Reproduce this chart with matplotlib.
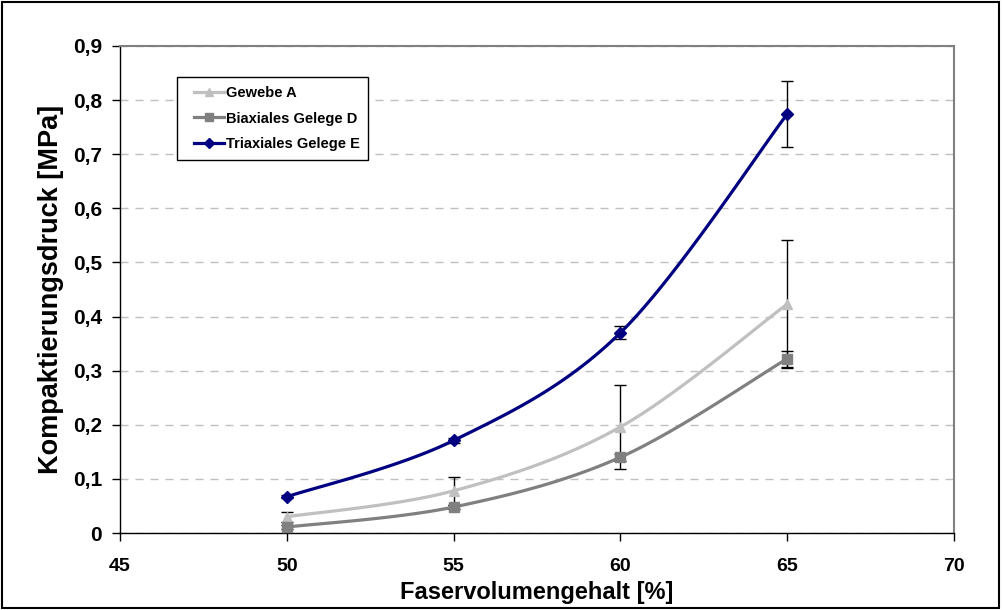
import matplotlib.pyplot as plt
import numpy as np
from matplotlib.legend_handler import HandlerLine2D
from matplotlib.patches import Rectangle
from matplotlib.ticker import FuncFormatter, MultipleLocator

plt.rcParams['font.family'] = ['Liberation Sans', 'DejaVu Sans']
plt.rcParams['font.weight'] = 'bold'

# Faservolumengehalt [%]
fvg = [50, 55, 60, 65]

# Kompaktierungsdruck [MPa] mit Standardabweichung
gewebe_a = [0.030, 0.078, 0.196, 0.423]
gewebe_a_err = [0.009, 0.026, 0.077, 0.118]
biax_d = [0.011, 0.048, 0.140, 0.322]
biax_d_err = [0.004, 0.004, 0.006, 0.015]
triax_e = [0.067, 0.171, 0.370, 0.774]
triax_e_err = [0.003, 0.005, 0.012, 0.061]

series = [
    ("Gewebe A", gewebe_a, gewebe_a_err, "#c0c0c0", "^", 7),
    ("Biaxiales Gelege D", biax_d, biax_d_err, "#808080", "s", 7),
    ("Triaxiales Gelege E", triax_e, triax_e_err, "#000080", "D", 6),
]

XLIM = (45, 70)
YLIM = (0, 0.9)


def smooth(x, y, n=40):
    # Catmull-Rom Bezier smoothing (like Excel's smoothed lines), done in
    # axis-normalised space so both axes weigh equally
    sx = (XLIM[1] - XLIM[0]) / 1.6
    sy = (YLIM[1] - YLIM[0])
    p = np.column_stack([np.asarray(x) / sx, np.asarray(y) / sy])
    pts = []
    for i in range(len(p) - 1):
        p0 = p[i - 1] if i > 0 else p[i]
        p3 = p[i + 2] if i + 2 < len(p) else p[i + 1]
        c1 = p[i] + (p[i + 1] - p0) / 6
        c2 = p[i + 1] - (p3 - p[i]) / 6
        t = np.linspace(0, 1, n)[:, None]
        seg = ((1 - t) ** 3 * p[i] + 3 * (1 - t) ** 2 * t * c1
               + 3 * (1 - t) * t ** 2 * c2 + t ** 3 * p[i + 1])
        pts.append(seg if i == 0 else seg[1:])
    pts = np.vstack(pts)
    return pts[:, 0] * sx, pts[:, 1] * sy


fig = plt.figure(figsize=(10.02, 6.10), dpi=100)
ax = fig.add_axes([0.1198, 0.1262, 0.952 - 0.1198, 0.9246 - 0.1262])

for label, y, err, col, mk, ms in series:
    xs, ys = smooth(fvg, y)
    ax.plot(xs, ys, color=col, lw=2.3, zorder=3)
    ax.errorbar(fvg, y, yerr=err, fmt="none", ecolor="black", elinewidth=1,
                capsize=4, capthick=1, zorder=2)
    ax.plot(fvg, y, linestyle="none", marker=mk, ms=ms, color=col,
            markeredgecolor=col, zorder=4)
    ax.plot([], [], color=col, lw=2.3, marker=mk, ms=ms - 1, label=label)

ax.set_xlim(*XLIM)
ax.set_ylim(*YLIM)
ax.xaxis.set_major_locator(MultipleLocator(5))
ax.yaxis.set_major_locator(MultipleLocator(0.1))
ax.yaxis.set_major_formatter(FuncFormatter(
    lambda v, _: "0" if abs(v) < 1e-9 else f"{v:.1f}".replace(".", ",")))

ax.grid(axis="y", color="#c0c0c0", linestyle=(0, (5.8, 5)), lw=1)
ax.set_axisbelow(True)

for side in ("top", "right"):
    ax.spines[side].set_color("#808080")
    ax.spines[side].set_linewidth(1.5)
for side in ("left", "bottom"):
    ax.spines[side].set_color("black")
    ax.spines[side].set_linewidth(1)
ax.tick_params(direction="out", length=6, width=1)
ax.tick_params(axis="x", labelsize=14, pad=12)
ax.tick_params(axis="y", labelsize=15, pad=7)

ax.set_xlabel("Faservolumengehalt [%]", fontsize=17, fontweight="bold", labelpad=4)
ax.set_ylabel("Kompaktierungsdruck [MPa]", fontsize=19.5, fontweight="bold", labelpad=6)

leg = ax.legend(loc="upper left", bbox_to_anchor=(0.0683, 0.936), frameon=True,
                fancybox=False, edgecolor="black", framealpha=1,
                prop={"size": 10.5, "weight": "bold"}, handlelength=2.6,
                handletextpad=0.15, labelspacing=0.8, borderpad=0.6,
                borderaxespad=0,
                handler_map={plt.Line2D: HandlerLine2D(xpad=0.6)})
leg.get_frame().set_linewidth(1)

fig.patches.append(Rectangle((0.002, 0.003), 0.995, 0.993, transform=fig.transFigure,
                             fill=False, edgecolor="black", lw=1.5))

fig.savefig("out.png", dpi=100)
